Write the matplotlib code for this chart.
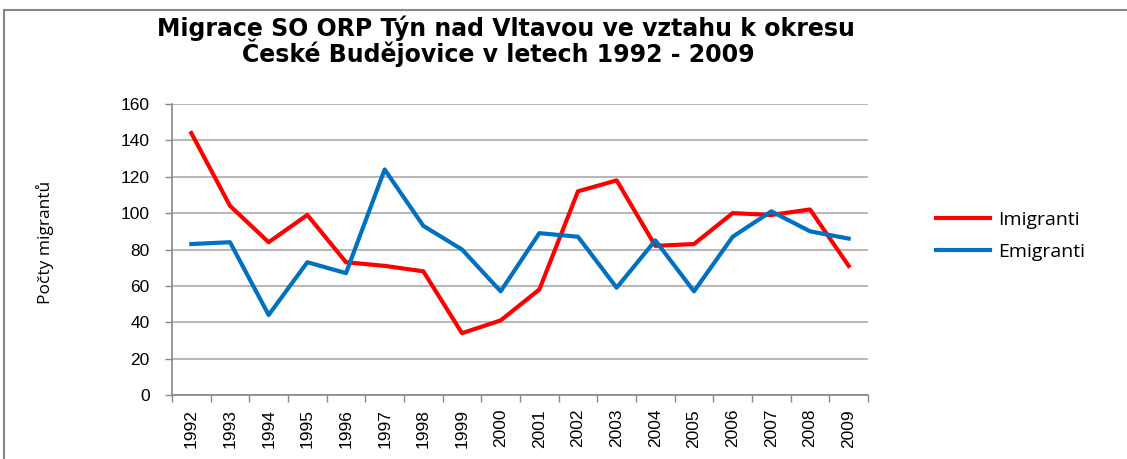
import matplotlib.pyplot as plt
from matplotlib.patches import Rectangle

years = ['1992', '1993', '1994', '1995', '1996', '1997', '1998', '1999', '2000',
         '2001', '2002', '2003', '2004', '2005', '2006', '2007', '2008', '2009']
imigranti = [144, 104, 84, 99, 73, 71, 68, 34, 41, 58, 112, 118, 82, 83, 100, 99, 102, 71]
emigranti = [83, 84, 44, 73, 67, 124, 93, 80, 57, 89, 87, 59, 85, 57, 87, 101, 90, 86]

plt.rcParams['font.family'] = ['Liberation Sans', 'DejaVu Sans']

fig = plt.figure(figsize=(11.27, 4.59), dpi=100)
ax = fig.add_axes([172/1127, 1-395/459, (868-172)/1127, (395-104)/459])

x = list(range(len(years)))
ax.plot(x, imigranti, color='#FF0000', lw=3, label='Imigranti', solid_joinstyle='round')
ax.plot(x, emigranti, color='#0070C0', lw=3, label='Emigranti', solid_joinstyle='round')

ax.set_xlim(-0.5, len(years) - 0.5)
ax.set_ylim(0, 160)
ax.set_yticks(range(0, 161, 20))
ax.set_xticks(x)
ax.set_xticklabels(years, rotation=90)
ax.set_xticks([i - 0.5 for i in range(len(years) + 1)], minor=True)
ax.tick_params(axis='x', which='major', length=0, pad=10, labelsize=12.5, colors='#000000')
ax.tick_params(axis='x', which='minor', length=5, color='#888888', width=1)
ax.tick_params(axis='y', length=5, color='#888888', width=1, labelsize=12.5, pad=11)
ax.grid(axis='y', color='#AAAAAA', lw=1.2)
ax.set_axisbelow(True)
for s in ['top', 'right']:
    ax.spines[s].set_visible(False)
for s in ['left', 'bottom']:
    ax.spines[s].set_color('#888888')
    ax.spines[s].set_linewidth(1.2)

fig.text(506/1127, 1-28/459, 'Migrace SO ORP Týn nad Vltavou ve vztahu k okresu',
         ha='center', va='center', fontsize=17, fontweight='bold', family='DejaVu Sans')
fig.text(498/1127, 1-53/459, 'České Budějovice v letech 1992 - 2009',
         ha='center', va='center', fontsize=17, fontweight='bold', family='DejaVu Sans')
fig.text(45/1127, 1-242/459, 'Počty migrantů', rotation=90, ha='center', va='center',
         fontsize=12.5, family='Open Sans')

fig.legend(loc='center left', bbox_to_anchor=(936/1127, 1-236/459), frameon=False,
           borderpad=0, borderaxespad=0,
           handlelength=2.8, handletextpad=0.4, labelspacing=0.7,
           prop={'family': 'Open Sans', 'size': 14})

fig.patches.append(Rectangle((4/1127, -0.1), 1.2, 1.1 - 10/459, transform=fig.transFigure,
                             fill=False, edgecolor='#888888', lw=1.5))

fig.savefig('out.png', dpi=100)
